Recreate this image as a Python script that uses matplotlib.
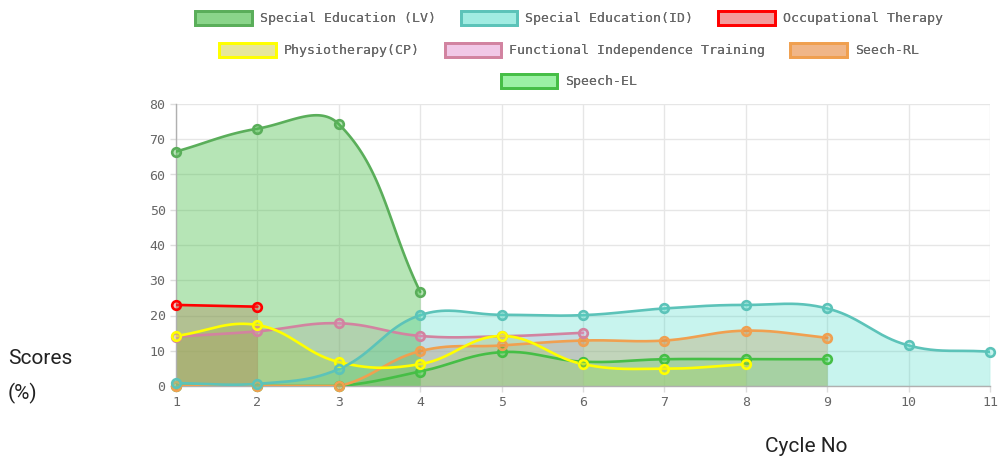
import numpy as np
import matplotlib
matplotlib.use("Agg")
import matplotlib.pyplot as plt
from matplotlib.patches import Patch

# data
cycles = [1, 2, 3, 4, 5, 6, 7, 8, 9, 10, 11]
labels = ["Special Education (LV)", "Special Education(ID)", "Occupational Therapy",
          "Physiotherapy(CP)", "Functional Independence Training", "Seech-RL", "Speech-EL"]
se_lv = [66.5, 73.0, 74.3, 26.7]
se_id = [0.8, 0.6, 4.8, 20.1, 20.2, 20.1, 22.0, 23.0, 22.0, 11.5, 9.7]
occ_ther = [23.0, 22.5]
physio = [14.2, 17.3, 6.8, 6.2, 14.2, 6.2, 4.9, 6.2]
fit = [14.0, 15.5, 17.8, 14.2, 14.1, 15.1]
seech_rl = [0, 0, 0, 9.9, 11.5, 12.9, 12.9, 15.7, 13.7]
speech_el = [0, 0, 0, 4.1, 9.6, 6.9, 7.6, 7.6, 7.6]

series = [se_lv, se_id, occ_ther, physio, fit, seech_rl, speech_el]
line_colors = ["#5aae5a", "#5cc3b9", "#ff0000", "#ffff00", "#d283a0", "#f0a050", "#46be46"]
fill_colors = [(0.29, 0.75, 0.29, 0.40), (0.29, 0.86, 0.78, 0.30), (0.92, 0.33, 0.33, 0.35),
               (0.82, 0.82, 0.24, 0.30), (0.90, 0.59, 0.82, 0.30), (0.90, 0.51, 0.20, 0.35),
               (0.24, 0.90, 0.31, 0.30)]

XMIN, XMAX, YMIN, YMAX = 1, 11, 0, 80
SX, SY = 81.4, 3.525  # pixels per unit, for chart.js style spline


def spline(xs, ys, t=0.4, n=40):
    # chart.js v2 bezier curve (lineTension 0.4) with control points capped to area
    xs = np.asarray(xs, float)
    ys = np.asarray(ys, float)
    m = len(xs)
    if m < 2:
        return xs, ys
    px, py = xs * SX, ys * SY
    cpn, cpp = [], []
    for i in range(m):
        a = max(i - 1, 0)
        b = min(i + 1, m - 1)
        d01 = np.hypot(px[i] - px[a], py[i] - py[a])
        d12 = np.hypot(px[b] - px[i], py[b] - py[i])
        tot = d01 + d12
        s01 = d01 / tot if tot else 0
        s12 = d12 / tot if tot else 0
        fa, fb = t * s01, t * s12
        dx, dy = px[b] - px[a], py[b] - py[a]
        cpp.append((px[i] - fa * dx, py[i] - fa * dy))
        cpn.append((px[i] + fb * dx, py[i] + fb * dy))

    def cap(p):
        return (min(max(p[0], XMIN * SX), XMAX * SX), min(max(p[1], YMIN * SY), YMAX * SY))

    cpp = [cap(p) for p in cpp]
    cpn = [cap(p) for p in cpn]
    outx, outy = [], []
    u = np.linspace(0, 1, n)
    for i in range(m - 1):
        p0 = np.array([px[i], py[i]])
        p1 = np.array(cpn[i])
        p2 = np.array(cpp[i + 1])
        p3 = np.array([px[i + 1], py[i + 1]])
        pts = ((1 - u) ** 3)[:, None] * p0 + (3 * (1 - u) ** 2 * u)[:, None] * p1 \
            + (3 * (1 - u) * u ** 2)[:, None] * p2 + (u ** 3)[:, None] * p3
        outx.extend(pts[:, 0] / SX)
        outy.extend(pts[:, 1] / SY)
    return np.array(outx), np.array(outy)


fig = plt.figure(figsize=(9.98, 4.67), dpi=100)
ax = fig.add_axes([176 / 998, 1 - 386 / 467, 814 / 998, 282 / 467])

nser = len(series)
for i, vals in enumerate(series):
    xs = cycles[:len(vals)]
    cx, cy = spline(xs, vals)
    z = (nser - i) * 0.01
    ax.fill_between(cx, cy, 0, color=fill_colors[i], lw=0, zorder=1 + z)
    ax.plot(cx, cy, color=line_colors[i], lw=1.9, zorder=3 + z, solid_capstyle="round")
    ax.plot(xs, vals, "o", ms=6.2, mfc=fill_colors[i], mec=line_colors[i], mew=1.9,
            zorder=3.5 + z, clip_on=False)

ax.set_xlim(XMIN, XMAX)
ax.set_ylim(YMIN, YMAX)
ax.set_xticks(cycles)
ax.set_yticks(np.arange(0, 81, 10))
ax.grid(True, color="#e6e6e6", lw=1, zorder=0)
ax.set_axisbelow(True)
for s in ["top", "right"]:
    ax.spines[s].set_visible(False)
for s in ["left", "bottom"]:
    ax.spines[s].set_color("#b0b0b0")
    ax.spines[s].set_linewidth(1)
ax.tick_params(length=4.5, width=1, color="#dddddd", labelcolor="#666666", pad=3)
for lab in ax.get_xticklabels() + ax.get_yticklabels():
    lab.set_family("DejaVu Sans Mono")
    lab.set_fontsize(9.5)

fig.text(8 / 998, 1 - 358 / 467, "Scores", family="Roboto",
         fontsize=15, color="#222222", va="center", ha="left")
fig.text(8 / 998, 1 - 393 / 467, "(%)", family="Roboto",
         fontsize=15, color="#222222", va="center", ha="left")
fig.text(806 / 998, 1 - 447 / 467, "Cycle No", family="Roboto",
         fontsize=15, color="#222222", va="center", ha="center")

handles = [Patch(facecolor=fill_colors[i], edgecolor=line_colors[i], lw=2) for i in range(nser)]
rows = [(0, 3, 18), (3, 6, 50), (6, 7, 81)]
for a, b, ypx in rows:
    leg = fig.legend(handles[a:b], labels[a:b], loc="center", ncol=b - a,
                     bbox_to_anchor=(569 / 998, 1 - ypx / 467), frameon=False,
                     prop={"family": "DejaVu Sans Mono", "size": 9.5},
                     handlelength=4.3, handleheight=1.35, handletextpad=0.6,
                     columnspacing=1.9, borderpad=0, borderaxespad=0)
    for txt in leg.get_texts():
        txt.set_color("#666666")
    fig.add_artist(leg)

fig.savefig("out.png", dpi=100)
